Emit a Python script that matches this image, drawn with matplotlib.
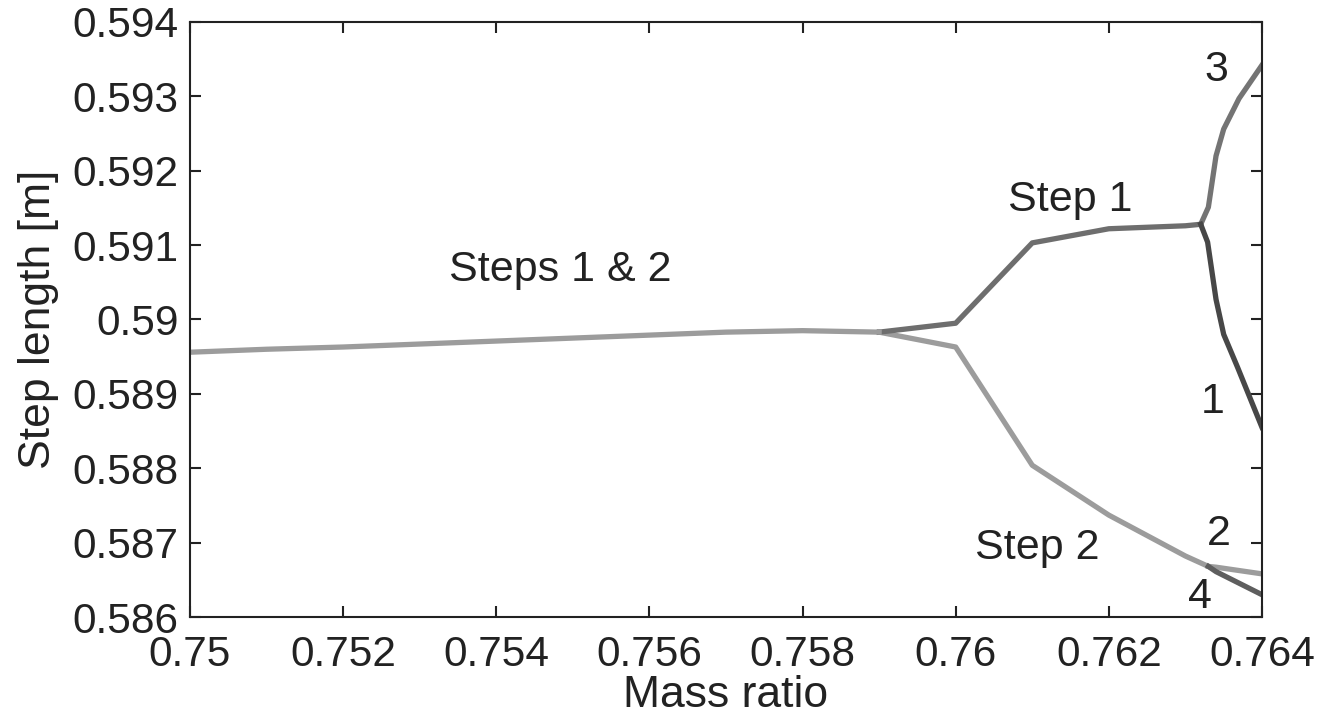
import numpy as np
from matplotlib import pyplot as plt

plt.rcParams['font.family'] = ['Liberation Sans', 'DejaVu Sans']

# shared branch (steps 1 & 2 equal)
x_common = [0.750, 0.751, 0.752, 0.753, 0.754, 0.755, 0.756, 0.757, 0.758, 0.759]
y_common = [0.58956, 0.58960, 0.58963, 0.58967, 0.58971, 0.58975, 0.58979, 0.58983, 0.58985, 0.58983]

# step 1 after first split
x_step1 = [0.759, 0.760, 0.761, 0.762, 0.763, 0.7632]
y_step1 = [0.58983, 0.58995, 0.59103, 0.59122, 0.59126, 0.59128]

# step 2 after first split
x_step2 = [0.759, 0.760, 0.761, 0.762, 0.763, 0.7633]
y_step2 = [0.58983, 0.58963, 0.58804, 0.58737, 0.58682, 0.58668]

# second split: branches 1 and 3 from step 1
x_b3 = [0.7632, 0.76330, 0.7634, 0.7635, 0.7637, 0.7640]
y_b3 = [0.59128, 0.59151, 0.59220, 0.59256, 0.59297, 0.59342]
x_b1 = [0.7632, 0.76329, 0.7634, 0.7635, 0.76368, 0.7640]
y_b1 = [0.59128, 0.59104, 0.59027, 0.58980, 0.58936, 0.58855]

# branches 2 and 4 from step 2
x_b2 = [0.7633, 0.7634, 0.7640]
y_b2 = [0.58668, 0.58667, 0.58658]
x_b4 = [0.7633, 0.7634, 0.7640]
y_b4 = [0.58668, 0.58661, 0.58630]

xticks = [0.75, 0.752, 0.754, 0.756, 0.758, 0.76, 0.762, 0.764]
xlabels = ['0.75', '0.752', '0.754', '0.756', '0.758', '0.76', '0.762', '0.764']
yticks = [0.586, 0.587, 0.588, 0.589, 0.59, 0.591, 0.592, 0.593, 0.594]
ylabels = ['0.586', '0.587', '0.588', '0.589', '0.59', '0.591', '0.592', '0.593', '0.594']

fig = plt.figure(figsize=(13.35, 7.23), dpi=100)
ax = fig.add_axes([0.1423, 0.1466, 0.8030, 0.8230])

lw = 3.8
ax.plot(x_step2, y_step2, color='#9c9c9c', lw=lw)
ax.plot(x_b2, y_b2, color='#9c9c9c', lw=lw)
ax.plot(x_b4, y_b4, color='#5e5e5e', lw=lw)
ax.plot(x_step1, y_step1, color='#6e6e6e', lw=lw)
ax.plot(x_b3, y_b3, color='#747474', lw=lw)
ax.plot(x_b1, y_b1, color='#474747', lw=lw)
ax.plot(x_common, y_common, color='#9c9c9c', lw=lw)

fs = 31
ax.text(0.75483, 0.59067, 'Steps 1 & 2', fontsize=fs, ha='center', va='center', color='#222222')
ax.text(0.76149, 0.5916, 'Step 1', fontsize=fs, ha='center', va='center', color='#222222')
ax.text(0.76106, 0.58693, 'Step 2', fontsize=fs, ha='center', va='center', color='#222222')
ax.text(0.76341, 0.59335, '3', fontsize=fs, ha='center', va='center', color='#222222')
ax.text(0.76335, 0.58889, '1', fontsize=fs, ha='center', va='center', color='#222222')
ax.text(0.76343, 0.58711, '2', fontsize=fs, ha='center', va='center', color='#222222')
ax.text(0.76319, 0.58627, '4', fontsize=fs, ha='center', va='center', color='#222222')

ax.set_xlim(0.75, 0.764)
ax.set_ylim(0.586, 0.594)
ax.set_xticks(xticks)
ax.set_xticklabels(xlabels)
ax.set_yticks(yticks)
ax.set_yticklabels(ylabels)
ax.tick_params(direction='in', top=True, right=True, length=8, width=1.5,
               labelsize=30.5, colors='#222222')
ax.tick_params(axis='x', pad=13)
ax.tick_params(axis='y', pad=8)
for s in ax.spines.values():
    s.set_linewidth(1.5)
    s.set_color('#222222')
ax.set_xlabel('Mass ratio', fontsize=32, color='#222222', labelpad=0)
ax.set_ylabel('Step length [m]', fontsize=32, color='#222222', labelpad=10)

plt.savefig('out.png', dpi=100)
